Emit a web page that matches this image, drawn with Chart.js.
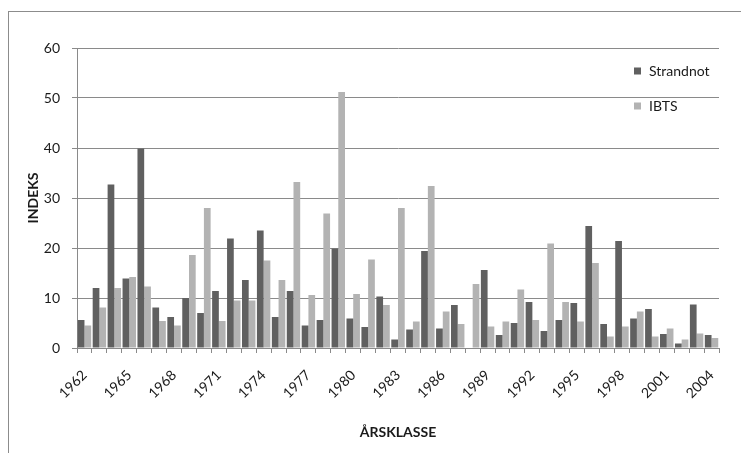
<!DOCTYPE html>
<html lang="no">
<head>
    <meta charset="UTF-8">
    <title>Strandnot og IBTS indeks</title>
    <script src="https://cdn.jsdelivr.net/npm/chart.js"></script>
    <style>
        body { margin: 0; background: #fff; }
        canvas { display: block; }
    </style>
</head>
<body>
    <canvas id="indexChart" width="741" height="453"></canvas>

    <script>
        const years = ['1962','1963','1964','1965','1966','1967','1968','1969','1970','1971',
                       '1972','1973','1974','1975','1976','1977','1978','1979','1980','1981',
                       '1982','1983','1984','1985','1986','1987','1988','1989','1990','1991',
                       '1992','1993','1994','1995','1996','1997','1998','1999','2000','2001',
                       '2002','2003','2004'];
        const strandnot = [5.6, 12.0, 32.7, 13.9, 39.9, 8.1, 6.2, 10.0, 7.0, 11.4,
                           21.9, 13.6, 23.5, 6.2, 11.4, 4.5, 5.6, 19.9, 5.9, 4.2,
                           10.3, 1.7, 3.7, 19.4, 3.9, 8.6, 0, 15.6, 2.6, 5.0,
                           9.2, 3.4, 5.6, 9.0, 24.4, 4.8, 21.4, 5.9, 7.8, 2.8,
                           0.9, 8.7, 2.6];
        const ibts = [4.5, 8.1, 12.0, 14.2, 12.3, 5.4, 4.5, 18.6, 28.0, 5.4,
                      9.5, 9.5, 17.5, 13.6, 33.2, 10.6, 26.9, 51.2, 10.8, 17.7,
                      8.6, 28.0, 5.3, 32.4, 7.3, 4.8, 12.8, 4.3, 5.3, 11.7,
                      5.6, 20.9, 9.2, 5.3, 17.0, 2.3, 4.3, 7.3, 2.3, 3.9,
                      1.7, 2.9, 2.0];
        const shownYears = ['1962','1965','1968','1971','1974','1977','1980','1983','1986',
                            '1989','1992','1995','1998','2001','2004'];

        const font = 'Lato';
        const gridColor = '#8a8a8a';

        // outer frame + legend drawn by hand (Excel style legend inside plot)
        const framePlugin = {
            id: 'frame',
            beforeDraw(chart) {
                const ctx = chart.ctx;
                ctx.save();
                ctx.fillStyle = '#fff';
                ctx.fillRect(0, 0, chart.width, chart.height);
                ctx.strokeStyle = '#8c8c8c';
                ctx.lineWidth = 1;
                ctx.strokeRect(8.5, 11.5, 900, 600);
                ctx.restore();
            },
            afterDraw(chart) {
                const ctx = chart.ctx;
                ctx.save();
                ctx.font = '14px ' + font;
                ctx.textBaseline = 'middle';
                chart.data.datasets.forEach((ds, i) => {
                    const y = 71 + i * 35;
                    ctx.fillStyle = ds.backgroundColor;
                    ctx.fillRect(634, y - 3.5, 7, 7);
                    ctx.fillStyle = '#1a1a1a';
                    ctx.fillText(ds.label, 649, y);
                });
                ctx.restore();
            }
        };

        const ctx = document.getElementById('indexChart').getContext('2d');
        const indexChart = new Chart(ctx, {
            type: 'bar',
            data: {
                labels: years,
                datasets: [{
                    label: 'Strandnot',
                    data: strandnot,
                    backgroundColor: '#606060',
                    categoryPercentage: 0.9,
                    barPercentage: 1.0
                }, {
                    label: 'IBTS',
                    data: ibts,
                    backgroundColor: '#b3b3b3',
                    categoryPercentage: 0.9,
                    barPercentage: 1.0
                }]
            },
            options: {
                responsive: false,
                animation: false,
                layout: {
                    padding: { left: 10, right: 22, top: 48, bottom: 0 }
                },
                plugins: {
                    legend: { display: false },
                    tooltip: { enabled: false }
                },
                scales: {
                    x: {
                        grid: {
                            display: true,
                            offset: true,
                            drawOnChartArea: false,
                            drawTicks: true,
                            tickLength: 5,
                            color: gridColor
                        },
                        border: { display: true, color: gridColor },
                        ticks: {
                            autoSkip: false,
                            minRotation: 45,
                            maxRotation: 45,
                            padding: 14,
                            color: '#1a1a1a',
                            font: { family: font, size: 14 },
                            callback: function(value) {
                                const lbl = this.getLabelForValue(value);
                                return shownYears.includes(lbl) ? lbl : '';
                            }
                        },
                        title: {
                            display: true,
                            text: 'ÅRSKLASSE',
                            color: '#1a1a1a',
                            font: { family: font, size: 14, weight: 'bold' },
                            padding: { top: 0, bottom: 12 }
                        },
                        afterFit: (scale) => { scale.height = 105; }
                    },
                    y: {
                        min: 0,
                        max: 60,
                        grid: {
                            color: gridColor,
                            tickLength: 5
                        },
                        border: { display: true, color: gridColor },
                        ticks: {
                            stepSize: 10,
                            padding: 12,
                            color: '#1a1a1a',
                            font: { family: font, size: 14 }
                        },
                        title: {
                            display: true,
                            text: 'INDEKS',
                            color: '#1a1a1a',
                            font: { family: font, size: 14, weight: 'bold' },
                            padding: { top: 15, bottom: 0 }
                        },
                        afterFit: (scale) => { scale.width = 67; }
                    }
                }
            },
            plugins: [framePlugin]
        });
    </script>
</body>
</html>
